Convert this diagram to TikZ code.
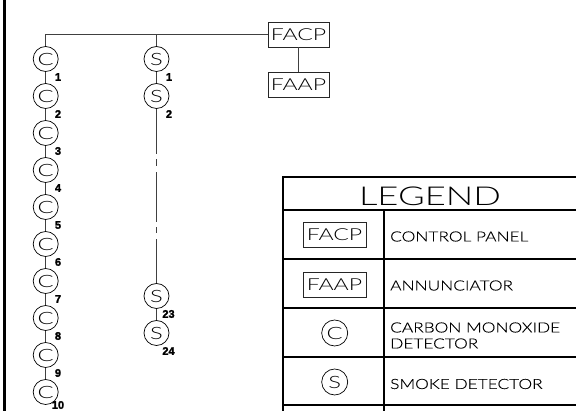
\documentclass[tikz,border=0pt]{standalone}
\usepackage{fontspec}
\setmainfont{Lato}
\newfontfamily\cad[FakeStretch=1.4]{Lato Light}
\newfontfamily\cadt[FakeStretch=1.235,FakeBold=0.3]{Lato Light}
\newfontfamily\numf[FakeBold=2]{Liberation Sans Bold}
\begin{document}
\begin{tikzpicture}[x=1pt,y=-1pt,
  wire/.style={draw=black!75,line width=0.8pt},
  heavy/.style={draw=black,line width=1.6pt},
  det/.style={circle,draw=black,line width=0.7pt,minimum size=25pt,inner sep=0pt,font=\cad\fontsize{17}{17}\selectfont},
  panel/.style={rectangle,draw=black!85,line width=0.7pt,minimum width=61pt,minimum height=25pt,inner sep=0pt,font=\cad\fontsize{16.5}{16.5}\selectfont},
  num/.style={font=\numf\fontsize{11}{11}\selectfont,inner sep=0pt},
  cell/.style={font=\cadt\fontsize{14}{16}\selectfont,inner sep=0pt,anchor=west,align=left}]
\useasboundingbox (0,0) rectangle (576,411);
\fill[white] (0,0) rectangle (576,411);
\draw[line width=2.4pt] (4.5,0) -- (4.5,411);
% detectors
\foreach \i in {1,...,9}{
  \node[det] (c\i) at (45.7,{59+37*(\i-1)}) {C};
  \node[num] (cn\i) at (58,{77+37*(\i-1)}) {\i};
}
\node[det] (c10) at (45.7,392) {C};
\node[num] (cn10) at (58,405) {10};
\node[det] (s1) at (156.5,59) {S};
\node[det] (s2) at (156.5,96) {S};
\node[det] (s23) at (156.5,296) {S};
\node[det] (s24) at (156.5,333) {S};
\node[num] (sn1) at (169,77) {1};
\node[num] (sn2) at (169,114) {2};
\node[num] (sn23) at (168.5,314) {23};
\node[num] (sn24) at (168.5,351) {24};
\node[panel] (facp) at (298.5,34.5) {FACP};
\node[panel] (faap) at (298.5,84.5) {FAAP};
\coordinate (busl) at (45.7,34.5);
\coordinate (buss) at (156.5,34.5);
\draw[wire] (facp.west) -- (busl) -- (c1.north);
\draw[wire] (buss) -- (s1.north);
\draw[wire] (facp.south) -- (faap.north);
\foreach \a/\b in {1/2,2/3,3/4,4/5,5/6,6/7,7/8,8/9,9/10}{\draw[wire] (c\a) -- (c\b);}
\draw[wire] (s1) -- (s2);
\draw[wire] (s23) -- (s24);
\draw[wire,dash pattern=on 45.5pt off 5pt on 7pt off 6pt on 50pt off 5pt on 6pt off 6pt on 50pt] (s2.south) -- (s23.north);
% legend
\draw[heavy] (576,177) -- (283,177) -- (283,411);
\foreach \y in {210,259,308,357,405}{\draw[heavy] (283,\y) -- (576,\y);}
\draw[heavy] (384,210) -- (384,411);
\node[font=\cad\fontsize{26}{26}\selectfont,inner sep=0] (lg) at (430,196) {LEGEND};
\node[panel,minimum width=63pt] (lf1) at (334.5,234.5) {FACP};
\node[panel,minimum width=63pt] (lf2) at (334.5,284.5) {FAAP};
\node[det,minimum size=26pt] (lc) at (334.7,333) {C};
\node[det,minimum size=26pt] (ls) at (334.7,382) {S};
\node[cell] (t1) at (390,236.5) {CONTROL PANEL};
\node[cell] (t2) at (390,285.5) {ANNUNCIATOR};
\node[cell] (t3) at (390,335.5) {CARBON MONOXIDE\\DETECTOR};
\node[cell] (t4) at (390,384) {SMOKE DETECTOR};
\end{tikzpicture}
\end{document}
